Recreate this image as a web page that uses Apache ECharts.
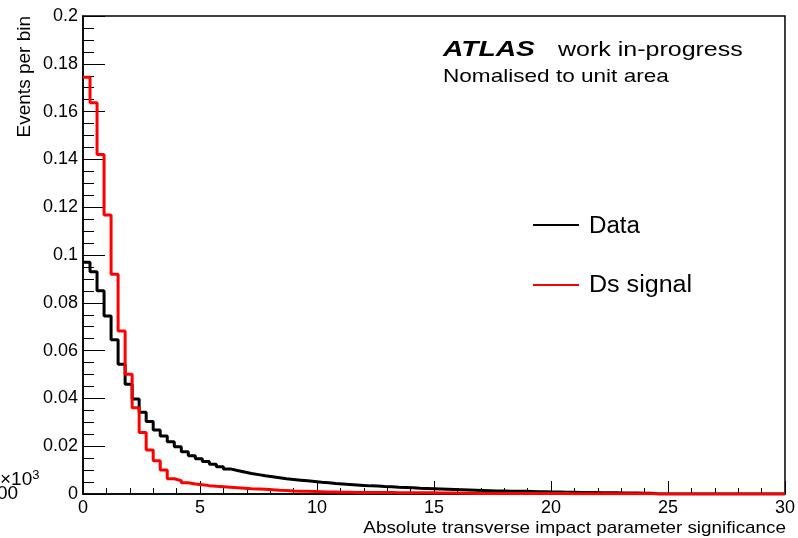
<!DOCTYPE html>
<html>
<head>
<meta charset="utf-8">
<script src="https://cdn.jsdelivr.net/npm/echarts@6/dist/echarts.min.js"></script>
<style>
  html, body { margin: 0; padding: 0; background: #fff; }
  #chart { width: 798px; height: 538px; }
</style>
</head>
<body>
<div id="chart"></div>
<script>
// Histogram binning: 100 bins of 0.3 over [0, 30]
const binWidth = 0.3;
const xRange = [0, 30];
const yRange = [0, 0.2];
const xTickStep = 5;
const yTickStep = 0.02;

const seriesNames = ['Data', 'Ds signal'];
const seriesColors = ['#000000', '#ff0000'];

// Normalised bin contents, data sample
const dataCounts = [
  0.0970, 0.0930, 0.0850, 0.0745, 0.0645, 0.0543, 0.0459, 0.0397, 0.0342, 0.0303,
  0.0268, 0.0243, 0.0219, 0.0198, 0.0177, 0.0160, 0.0147, 0.0136, 0.0124, 0.0114,
  0.0105, 0.0098, 0.0092, 0.0086, 0.0081, 0.0076, 0.0072, 0.0068, 0.0064, 0.0061,
  0.0058, 0.0055, 0.0052, 0.0049, 0.0047, 0.0044, 0.0042, 0.0040, 0.0038, 0.0036,
  0.0034, 0.0033, 0.0031, 0.0030, 0.0028, 0.0027, 0.0026, 0.0024, 0.0023, 0.0022,
  0.0021, 0.0020, 0.0019, 0.0018, 0.0017, 0.0016, 0.0015, 0.0014, 0.0013, 0.0013,
  0.0012, 0.0011, 0.0011, 0.0010, 0.0009, 0.0009, 0.0008, 0.0008, 0.0007, 0.0007,
  0.0006, 0.0006, 0.0006, 0.0005, 0.0005, 0.0005, 0.0004, 0.0004, 0.0004, 0.0003,
  0.0003, 0, 0, 0, 0, 0, 0, 0, 0, 0,
  0, 0, 0, 0, 0, 0, 0, 0, 0, 0
];

// Normalised bin contents, Ds signal sample
const signalCounts = [
  0.1744, 0.1637, 0.1420, 0.1167, 0.0919, 0.0682, 0.0501, 0.0361, 0.0257, 0.0184,
  0.0139, 0.0100, 0.0064, 0.0056, 0.0047, 0.0042, 0.0039, 0.0035, 0.0032, 0.0030,
  0.0028, 0.0026, 0.0024, 0.0022, 0.0021, 0.0020, 0.0018, 0.0016, 0.0015, 0.0013,
  0.0012, 0.0011, 0.0010, 0.0009, 0.0008, 0.0008, 0.0007, 0.0007, 0.0006, 0.0006,
  0.0006, 0.0006, 0.0006, 0.0006, 0.0005, 0.0005, 0.0005, 0.0005, 0.0005, 0.0005,
  0.0004, 0.0004, 0.0004, 0.0003, 0.0003, 0.0002, 0.0002, 0.0002, 0.0002, 0.0002,
  0.0002, 0.0002, 0.0002, 0.0002, 0.0002, 0.0002, 0.0002, 0.0002, 0.0002, 0.0001,
  0.0001, 0.0001, 0.0001, 0.0001, 0.0001, 0.0001, 0.0001, 0.0001, 0.0001, 0.0001,
  0.0001, 0, 0, 0, 0, 0, 0, 0, 0, 0,
  0, 0, 0, 0, 0, 0, 0, 0, 0, 0
];

// Turn bin contents into the outline of a step histogram
function stepPoints(values) {
  const pts = values.map((v, i) => [xRange[0] + i * binWidth, v]);
  pts.push([xRange[0] + values.length * binWidth, values[values.length - 1]]);
  return pts;
}

const FONT = '"Liberation Sans", Arial, Helvetica, sans-serif';
const chart = echarts.init(document.getElementById('chart'), null, { renderer: 'canvas' });

function label(x, y, text, size, opts) {
  return Object.assign({
    type: 'text', x: x, y: y, z: 100,
    style: {
      text: text, fill: '#000',
      font: (opts && opts.weight ? opts.weight + ' ' : '') + size + 'px ' + FONT,
      textAlign: 'left', textVerticalAlign: 'middle'
    }
  }, opts && opts.el ? opts.el : {});
}

const graphic = [
  label(443, 50, 'ATLAS', 22, { weight: 'italic bold', el: { scaleX: 1.28 } }),
  label(558, 50, 'work in-progress', 20, { el: { scaleX: 1.25 } }),
  label(443, 77, 'Nomalised to unit area', 18.5, { el: { scaleX: 1.22 } }),
  // legend
  { type: 'line', z: 100, shape: { x1: 533, y1: 225, x2: 579, y2: 225 }, style: { stroke: seriesColors[0], lineWidth: 2 } },
  { type: 'line', z: 100, shape: { x1: 533, y1: 285, x2: 579, y2: 285 }, style: { stroke: seriesColors[1], lineWidth: 2 } },
  label(589, 227, seriesNames[0], 23, { el: { scaleX: 1.05 } }),
  label(589, 286, seriesNames[1], 23, { el: { scaleX: 1.09 } }),
  // axis titles
  {
    type: 'text', x: 786, y: 528, z: 100, scaleX: 1.11,
    style: { text: 'Absolute transverse impact parameter significance', fill: '#000',
      font: '17px ' + FONT, textAlign: 'right', textVerticalAlign: 'middle' }
  },
  {
    type: 'text', x: 25, y: 16, z: 100, rotation: Math.PI / 2,
    style: { text: 'Events per bin', fill: '#000',
      font: '19px ' + FONT, textAlign: 'right', textVerticalAlign: 'middle' }
  },
  // exponent marker at the lower left
  {
    type: 'text', x: 0, y: 480, z: 100,
    style: {
      text: '{b|×10}{s|3}', fill: '#000', textAlign: 'left', textVerticalAlign: 'middle',
      rich: {
        b: { font: '19px ' + FONT, fill: '#000' },
        s: { font: '13px ' + FONT, fill: '#000', verticalAlign: 'top', padding: [0, 0, 10, 0] }
      }
    }
  },
  label(-3, 494, '00', 19)
];

chart.setOption({
  animation: false,
  backgroundColor: '#ffffff',
  grid: {
    left: 83, top: 16, right: 11, bottom: 44,
    show: true, borderColor: '#000', borderWidth: 1.5, backgroundColor: 'transparent'
  },
  xAxis: {
    type: 'value', min: xRange[0], max: xRange[1], interval: xTickStep,
    axisLine: { show: true, onZero: false, lineStyle: { color: '#000', width: 1.5 } },
    axisTick: { show: true, inside: true, length: 13, lineStyle: { color: '#000', width: 1 } },
    minorTick: { show: true, splitNumber: 5, length: 6, lineStyle: { color: '#000', width: 1 } },
    splitLine: { show: false },
    axisLabel: { color: '#000', fontFamily: FONT, fontSize: 18, margin: 5 }
  },
  yAxis: {
    type: 'value', min: yRange[0], max: yRange[1], interval: yTickStep,
    axisLine: { show: true, onZero: false, lineStyle: { color: '#000', width: 1.5 } },
    axisTick: { show: true, inside: true, length: 22, lineStyle: { color: '#000', width: 1 } },
    minorTick: { show: true, splitNumber: 4, length: 11, lineStyle: { color: '#000', width: 1 } },
    splitLine: { show: false },
    axisLabel: { color: '#000', fontFamily: FONT, fontSize: 18, margin: 5 }
  },
  series: [
    {
      name: seriesNames[0], type: 'line', step: 'end', symbol: 'none',
      data: stepPoints(dataCounts),
      lineStyle: { color: seriesColors[0], width: 3 }, itemStyle: { color: seriesColors[0] }
    },
    {
      name: seriesNames[1], type: 'line', step: 'end', symbol: 'none',
      data: stepPoints(signalCounts),
      lineStyle: { color: seriesColors[1], width: 3 }, itemStyle: { color: seriesColors[1] }
    }
  ],
  graphic: graphic
});
</script>
</body>
</html>
